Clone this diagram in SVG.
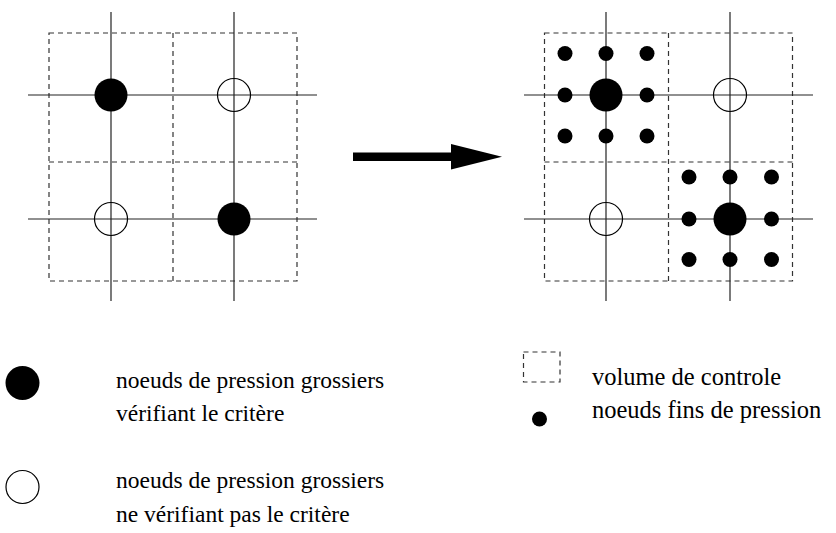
<svg xmlns="http://www.w3.org/2000/svg" width="836" height="533" viewBox="0 0 836 533">
<style>
.grid{stroke:#222;stroke-width:1.2;fill:none}
.cv{stroke:#333;stroke-width:1.2;fill:none;stroke-dasharray:5 4}
.full{fill:#000}
.empty{fill:none;stroke:#000;stroke-width:1.2}
.t{font-size:23.5px;fill:#000}
.tr{font-size:24.5px;fill:#000}
</style>
<rect width="836" height="533" fill="#fff"/>
<g id="left-grid">
<g id="left-cv">
<rect class="cv" x="49" y="33" width="248" height="248"/>
<line class="cv" x1="173" y1="33" x2="173" y2="281"/>
<line class="cv" x1="49" y1="162" x2="297" y2="162"/>
</g>
<g id="left-lines">
<line class="grid" x1="111" y1="12" x2="111" y2="301"/>
<line class="grid" x1="234" y1="12" x2="234" y2="301"/>
<line class="grid" x1="28" y1="95" x2="317" y2="95"/>
<line class="grid" x1="28" y1="219" x2="317" y2="219"/>
</g>
<g id="left-n1"><circle class="full" cx="111" cy="95" r="16.5"/></g>
<g id="left-n2"><circle class="empty" cx="234" cy="95" r="16.5"/></g>
<g id="left-n3"><circle class="empty" cx="111" cy="219" r="16.5"/></g>
<g id="left-n4"><circle class="full" cx="234" cy="219" r="16.5"/></g>
</g>
<g id="connectors">
<polygon points="353,152.5 451,152.5 451,144 502,156.7 451,169.5 451,161 353,161" fill="#000"/>
</g>
<g id="right-grid">
<g id="right-cv">
<rect class="cv" x="544.5" y="33" width="248" height="248"/>
<line class="cv" x1="668.5" y1="33" x2="668.5" y2="281"/>
<line class="cv" x1="544.5" y1="162" x2="792.5" y2="162"/>
</g>
<g id="right-lines">
<line class="grid" x1="606" y1="12" x2="606" y2="301"/>
<line class="grid" x1="730" y1="12" x2="730" y2="301"/>
<line class="grid" x1="524" y1="95" x2="813" y2="95"/>
<line class="grid" x1="524" y1="219" x2="813" y2="219"/>
</g>
<g id="right-n1"><circle class="full" cx="606" cy="95" r="16.5"/></g>
<g id="right-n2"><circle class="empty" cx="730" cy="95" r="16.5"/></g>
<g id="right-n3"><circle class="empty" cx="606" cy="219" r="16.5"/></g>
<g id="right-n4"><circle class="full" cx="730" cy="219" r="16.5"/></g>
<g id="fine-1" class="full">
<circle cx="565" cy="53.5" r="7.5"/><circle cx="606" cy="53.5" r="7.5"/><circle cx="647" cy="53.5" r="7.5"/>
<circle cx="565" cy="95" r="7.5"/><circle cx="647" cy="95" r="7.5"/>
<circle cx="565" cy="136" r="7.5"/><circle cx="606" cy="136" r="7.5"/><circle cx="647" cy="136" r="7.5"/>
</g>
<g id="fine-2" class="full">
<circle cx="689" cy="177" r="7.5"/><circle cx="730" cy="177" r="7.5"/><circle cx="771.5" cy="177" r="7.5"/>
<circle cx="689" cy="219" r="7.5"/><circle cx="771.5" cy="219" r="7.5"/>
<circle cx="689" cy="259.5" r="7.5"/><circle cx="730" cy="259.5" r="7.5"/><circle cx="771.5" cy="259.5" r="7.5"/>
</g>
</g>
<g font-family="'Liberation Serif', 'DejaVu Serif', serif">
<g id="legend-full">
<circle class="full" cx="22.5" cy="383" r="17"/>
<text class="t" x="116" y="388">noeuds de pression grossiers</text>
<text class="t" x="116" y="421">vérifiant le critère</text>
</g>
<g id="legend-empty">
<circle class="empty" cx="22.5" cy="487" r="16.5"/>
<text class="t" x="116" y="488">noeuds de pression grossiers</text>
<text class="t" x="116" y="522">ne vérifiant pas le critère</text>
</g>
<g id="legend-cv">
<rect class="cv" x="523.5" y="352" width="36.5" height="30"/>
<text class="tr" x="592" y="385">volume de controle</text>
</g>
<g id="legend-fine">
<circle class="full" cx="539.5" cy="419" r="7.5"/>
<text class="tr" x="592" y="418">noeuds fins de pression</text>
</g>
</g>
</svg>
